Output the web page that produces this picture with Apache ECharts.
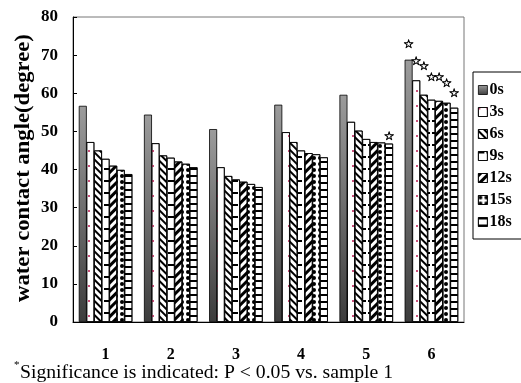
<!DOCTYPE html>
<html>
<head>
<meta charset="utf-8">
<script src="https://cdn.jsdelivr.net/npm/echarts@6/dist/echarts.min.js"></script>
<style>
  html, body { margin: 0; padding: 0; background: #fff; }
  #main { width: 521px; height: 383px; }
</style>
</head>
<body>
<div id="main"></div>
<script>
// samples 1..6, contact angle per drying time
var categories = ['1', '2', '3', '4', '5', '6'];
var seriesNames = ['0s', '3s', '6s', '9s', '12s', '15s', '18s'];
var v0s  = [56.7, 54.4, 50.6, 57.0, 59.6, 68.8];
var v3s  = [47.2, 46.9, 40.6, 49.8, 52.5, 63.4];
var v6s  = [45.0, 43.7, 38.3, 47.2, 50.2, 59.6];
var v9s  = [42.8, 43.1, 37.4, 45.0, 48.0, 58.3];
var v12s = [41.0, 42.1, 36.8, 44.3, 47.2, 58.0];
var v15s = [39.9, 41.5, 36.2, 44.0, 47.1, 57.5];
var v18s = [38.8, 40.6, 35.4, 43.2, 46.8, 56.2];
// height of the significance star (centre), '-' = none
var star0s  = ['-', '-', '-', '-', '-', 72.9];
var star3s  = ['-', '-', '-', '-', '-', 68.6];
var star6s  = ['-', '-', '-', '-', '-', 67.3];
var star9s  = ['-', '-', '-', '-', '-', 64.4];
var star12s = ['-', '-', '-', '-', '-', 64.4];
var star15s = ['-', '-', '-', '-', '-', 62.7];
var star18s = ['-', '-', '-', '-', 48.8, 60.0];
var yTicks = [0, 10, 20, 30, 40, 50, 60, 70, 80];

var values = [v0s, v3s, v6s, v9s, v12s, v15s, v18s];
var stars = [star0s, star3s, star6s, star9s, star12s, star15s, star18s];

var serif = '"Liberation Serif", "Times New Roman", serif';

var styles = [
    {
        color: new echarts.graphic.LinearGradient(0, 0, 0, 1, [
            {offset: 0, color: '#9c9c9c'},
            {offset: 1, color: '#3c3c3c'}
        ])
    },
    {
        color: '#fff',
        decal: {symbol: 'rect', symbolSize: 1, color: '#c8507a',
            dashArrayX: [2, 6], dashArrayY: [2, 13]}
    },
    {
        color: '#fff',
        decal: {symbol: 'rect', symbolSize: 1, color: '#000',
            dashArrayX: [1, 0], dashArrayY: [1.3, 2.4], rotation: Math.PI / 4}
    },
    {
        color: '#fff',
        decal: {symbol: 'rect', symbolSize: 1, color: '#000',
            dashArrayX: [6, 2], dashArrayY: [2, 10]}
    },
    {
        color: '#fff',
        decal: {symbol: 'rect', symbolSize: 1, color: '#000',
            dashArrayX: [1, 0], dashArrayY: [3, 3], rotation: -Math.PI / 4}
    },
    {
        color: '#fff',
        decal: {symbol: 'circle', symbolSize: 1, color: '#000',
            dashArrayX: [4, 2], dashArrayY: [4, 2]}
    },
    {
        color: '#fff',
        decal: {symbol: 'rect', symbolSize: 1, color: '#000',
            dashArrayX: [1, 0], dashArrayY: [1.3, 4.2]}
    }
];

var series = [];
seriesNames.forEach(function (name, i) {
    var st = styles[i];
    series.push({
        name: name,
        type: 'bar',
        stack: 's' + i,
        barWidth: 8,
        barGap: '-5%',
        data: values[i],
        itemStyle: {
            color: st.color,
            decal: st.decal,
            borderColor: '#000',
            borderWidth: 0.8
        },
        emphasis: {disabled: true}
    });
});
// invisible segments that carry the star labels
seriesNames.forEach(function (name, i) {
    var gap = stars[i].map(function (s, j) {
        return s === '-' ? '-' : s - values[i][j];
    });
    series.push({
        name: 'star' + name,
        type: 'bar',
        stack: 's' + i,
        barWidth: 8,
        barGap: '-5%',
        data: gap,
        itemStyle: {color: 'rgba(0,0,0,0)'},
        label: {
            show: true,
            position: 'top',
            distance: -7,
            formatter: '☆',
            fontFamily: 'DejaVu Sans',
            fontWeight: 'bold',
            fontSize: 12,
            color: '#000',
            textBorderColor: '#000',
            textBorderWidth: 0.6
        },
        emphasis: {disabled: true}
    });
});

var chart = echarts.init(document.getElementById('main'));
chart.setOption({
    animation: false,
    grid: {
        left: 73, right: 57, top: 17, bottom: 61,
        show: true, borderColor: '#777', borderWidth: 1
    },
    legend: {
        data: seriesNames,
        orient: 'vertical',
        left: 473,
        top: 72,
        icon: 'rect',
        itemWidth: 9,
        itemHeight: 9,
        itemGap: 6,
        padding: [10, 20, 9, 5],
        borderColor: '#000',
        borderWidth: 1,
        itemStyle: {borderColor: '#000', borderWidth: 0.8},
        textStyle: {fontFamily: serif, fontWeight: 'bold', fontSize: 16, color: '#000', padding: [0, 0, 0, -3]}
    },
    xAxis: {
        type: 'category',
        data: categories,
        axisLine: {lineStyle: {color: '#000', width: 1}},
        axisTick: {inside: true, length: 5, lineStyle: {color: '#000'}},
        axisLabel: {fontFamily: serif, fontWeight: 'bold', fontSize: 16, color: '#000', margin: 25}
    },
    yAxis: {
        type: 'value',
        min: yTicks[0],
        max: yTicks[yTicks.length - 1],
        interval: 10,
        axisLine: {show: true, lineStyle: {color: '#000', width: 1}},
        axisTick: {show: true, inside: true, length: 4, lineStyle: {color: '#000'}},
        splitLine: {show: false},
        axisLabel: {fontFamily: serif, fontWeight: 'bold', fontSize: 17, color: '#000', margin: 15}
    },
    graphic: [
        // y axis title, stretched along its length like the original
        {type: 'text', x: 24, y: 168, rotation: Math.PI / 2, scaleX: 1.08,
            style: {text: 'water contact angle(degree)', font: 'bold 21px ' + serif, fill: '#000',
                align: 'center', verticalAlign: 'middle'}},
        {type: 'text', left: 14, top: 360,
            style: {text: '*', font: '11px ' + serif, fill: '#000'}},
        {type: 'text', left: 20, top: 363,
            style: {text: 'Significance is indicated: P < 0.05 vs. sample 1', font: '19.7px ' + serif, fill: '#000'}}
    ],
    series: series
});
</script>
</body>
</html>
